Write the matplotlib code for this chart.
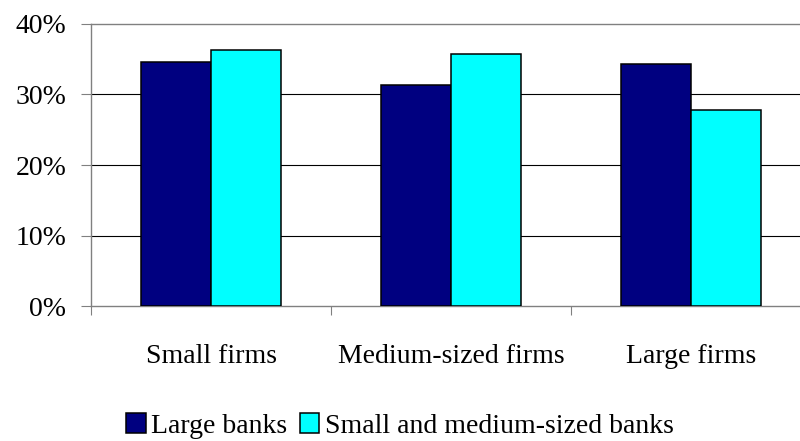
import numpy as np
import matplotlib
matplotlib.use("Agg")
import matplotlib.pyplot as plt
from matplotlib.ticker import FuncFormatter, FixedLocator

plt.rcParams['font.family'] = ['Liberation Serif', 'DejaVu Serif']

# data
categories = ["Small firms", "Medium-sized firms", "Large firms"]
series = ["Large banks", "Small and medium-sized banks"]
large_banks = [34.6, 31.4, 34.3]
small_medium_banks = [36.3, 35.7, 27.8]
colors = ["#000080", "#00FFFF"]

fig = plt.figure(figsize=(8, 4.41), dpi=100)
ax = fig.add_axes([0.114, 0.3061, 0.9, 0.6395])

x = np.arange(len(categories))
w = 0.2917
ax.bar(x - w/2, large_banks, w, color=colors[0], edgecolor="black", linewidth=1.1,
       label=series[0], zorder=3)
ax.bar(x + w/2, small_medium_banks, w, color=colors[1], edgecolor="black", linewidth=1.1,
       label=series[1], zorder=3)

ax.set_xlim(-0.5, 2.5)
ax.set_ylim(0, 40)

# y axis
ax.set_yticks([0, 10, 20, 30, 40])
ax.yaxis.set_major_formatter(FuncFormatter(lambda v, p: "%d%%" % v))
ax.tick_params(axis="y", direction="out", length=7, width=0.8, color="#808080",
               pad=11, labelsize=20)
for yv in [10, 20, 30]:
    ax.axhline(yv, color="black", linewidth=0.8, zorder=1)

# x axis: ticks at group boundaries, labels at centers
ax.xaxis.set_major_locator(FixedLocator([-0.5, 0.5, 1.5, 2.5]))
ax.xaxis.set_major_formatter(FuncFormatter(lambda v, p: ""))
ax.xaxis.set_minor_locator(FixedLocator(x))
ax.set_xticklabels(categories, minor=True)
ax.tick_params(axis="x", which="major", direction="out", length=6.5, width=0.8,
               color="#808080")
ax.tick_params(axis="x", which="minor", length=0, pad=27, labelsize=20)

for s in ["left", "bottom", "top", "right"]:
    ax.spines[s].set_color("#808080")
    ax.spines[s].set_linewidth(1.0)

handles, labels = ax.get_legend_handles_labels()
fig.legend(handles, labels, loc="center", bbox_to_anchor=(0.5, 0.034), ncol=2,
           frameon=False, fontsize=20, handlelength=0.7, handleheight=0.7,
           handletextpad=0.2, columnspacing=0.45, borderpad=0, borderaxespad=0)

fig.savefig("out.png", dpi=100)
